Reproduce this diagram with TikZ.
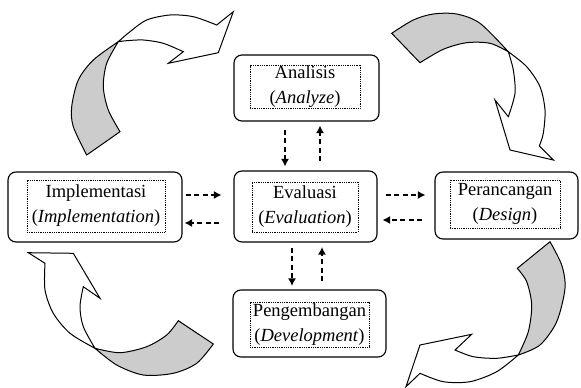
\documentclass[tikz,border=0pt]{standalone}
\usepackage{fontspec}
\setmainfont{Liberation Serif}
\usepackage{tikz}
\usetikzlibrary{arrows.meta}
\definecolor{tailgray}{gray}{0.8}

\begin{document}
\begin{tikzpicture}[x=1pt, y=-1pt,
	stage/.style={draw, rectangle, rounded corners=8pt, line width=1.1pt},
	stagetext/.style={draw, rectangle, densely dotted, line width=0.8pt, align=center, inner sep=0pt, font=\fontsize{18.5}{25}\selectfont},
	flow/.style={->, >={Latex[length=7.5pt, width=8pt]}, dashed, dash pattern=on 5pt off 3.5pt, line width=1.3pt},
	ribbon/.style={draw, line width=1pt, line join=miter}]
	\useasboundingbox (0,0) rectangle (581,388);

	% stages
	\node[stage, minimum width=145pt, minimum height=66pt] (ana) at (306.5,88) {};
	\node[stagetext, minimum width=110pt, minimum height=43pt] (ana1) at (305,87) {Analisis\\(\textit{Analyze})};
	\node[stage, minimum width=143pt, minimum height=71pt] (eval) at (305.5,206.5) {};
	\node[stagetext, minimum width=106pt, minimum height=50pt] (eval1) at (305,207) {Evaluasi\\(\textit{Evaluation})};
	\node[stage, minimum width=174pt, minimum height=70pt] (impl) at (95,207) {};
	\node[stagetext, minimum width=138pt, minimum height=52pt] (impl1) at (96,206) {Implementasi\\(\textit{Implementation})};
	\node[stage, minimum width=143pt, minimum height=67pt] (desg) at (506.5,205.5) {};
	\node[stagetext, minimum width=110pt, minimum height=48pt] (desg1) at (505,204) {Perancangan\\(\textit{Design})};
	\node[stage, minimum width=153pt, minimum height=67pt] (dev) at (309.5,323.5) {};
	\node[stagetext, minimum width=119pt, minimum height=45pt] (dev1) at (309.5,324.5) {Pengembangan\\(\textit{Development})};

	% dashed links
	\draw[flow] ([xshift=-21.5pt, yshift=-8pt] ana.south) -- ([xshift=-20.5pt, yshift=4pt] eval.north);
	\draw[flow] ([xshift=14.5pt, yshift=9pt] eval.north) -- ([xshift=13.5pt, yshift=-4pt] ana.south);
	\draw[flow] ([xshift=3pt, yshift=12pt] impl.east) -- ([xshift=-12pt, yshift=11.5pt] eval.west);
	\draw[flow] ([xshift=-14pt, yshift=-16.5pt] eval.west) -- ([xshift=2pt, yshift=-16pt] impl.east);
	\draw[flow] ([xshift=8pt, yshift=11.5pt] eval.east) -- ([xshift=-9pt, yshift=10.5pt] desg.west);
	\draw[flow] ([xshift=-12pt, yshift=-14.5pt] desg.west) -- ([xshift=5pt, yshift=-13.5pt] eval.east);
	\draw[flow] ([xshift=-13.5pt, yshift=-5pt] eval.south) -- ([xshift=-17.5pt, yshift=3.5pt] dev.north);
	\draw[flow] ([xshift=12.5pt, yshift=8pt] dev.north) -- ([xshift=16.5pt, yshift=-4.5pt] eval.south);

	% cycle arrows, top left
	\filldraw[ribbon, fill=white] plot[smooth] coordinates {(118.3,41.7) (130,31.7) (146.7,20) (170,15) (193.3,16.7) (216.7,25)}
		-- (233.3,11.7) -- (218.3,52.7) -- (168.3,63.3)
		-- plot[smooth] coordinates {(183.3,51.7) (163.3,43.3) (143.3,40) (126.7,40.7) (118.3,41.7)} -- cycle;
	\filldraw[ribbon, fill=tailgray] plot[smooth] coordinates {(86.7,155) (73.3,126.7) (71.7,106.7) (78.3,80) (93.3,60) (118.3,41.7)}
		-- plot[smooth] coordinates {(118.3,41.7) (106.7,63.3) (103.3,86.7) (108.3,110) (120,131.7)} -- cycle;

	% top right
	\filldraw[ribbon, fill=white] plot[smooth] coordinates {(508.3,51.7) (526.7,66.7) (540,86.7) (545,110) (543.3,133.3) (539.3,146)}
		-- (553.3,160) -- (510,150) -- (495,100)
		-- plot[smooth] coordinates {(508.3,116.7) (515,93.3) (513.3,70) (508.3,51.7)} -- cycle;
	\filldraw[ribbon, fill=tailgray] plot[smooth] coordinates {(391.7,33.3) (413.3,20) (433.3,14) (456.7,14) (480,23.3) (508.3,51.7)}
		-- plot[smooth] coordinates {(508.3,51.7) (490,43.3) (466.7,42.7) (443.3,49.3) (420,62.7)} -- cycle;

	% bottom left
	\filldraw[ribbon, fill=white] plot[smooth] coordinates {(95,348.3) (70,333.3) (53.3,313.3) (45,290) (45,263.3)}
		-- (28.3,252.7) -- (73.3,253.3) -- (100,298.3)
		-- plot[smooth] coordinates {(83.3,286.7) (80,306.7) (83.3,326.7) (95,348.3)} -- cycle;
	\filldraw[ribbon, fill=tailgray] plot[smooth] coordinates {(178.3,320.7) (166.7,335) (146.7,346.7) (120,352.7) (95,348.3)}
		-- plot[smooth] coordinates {(95,348.3) (116.7,365) (143.3,375) (173.3,373.3) (196.7,363.3) (213.3,344)} -- cycle;

	% bottom right
	\filldraw[ribbon, fill=white] plot[smooth] coordinates {(518.3,355) (496.7,371.7) (470,381.7) (443.3,381.7) (420,373.3)}
		-- (406,386.7) -- (420,345) -- (471.7,334.3)
		-- plot[smooth] coordinates {(455,350) (473.3,356.7) (496.7,358.3) (518.3,355)} -- cycle;
	\filldraw[ribbon, fill=tailgray] plot[smooth] coordinates {(550,241.7) (561.7,265) (565,288.3) (556.7,321.7) (540,345) (518.3,355)}
		-- plot[smooth] coordinates {(518.3,355) (528.3,331.7) (531.7,305) (526.7,281.7) (517.3,268.3)} -- cycle;
\end{tikzpicture}
\end{document}
